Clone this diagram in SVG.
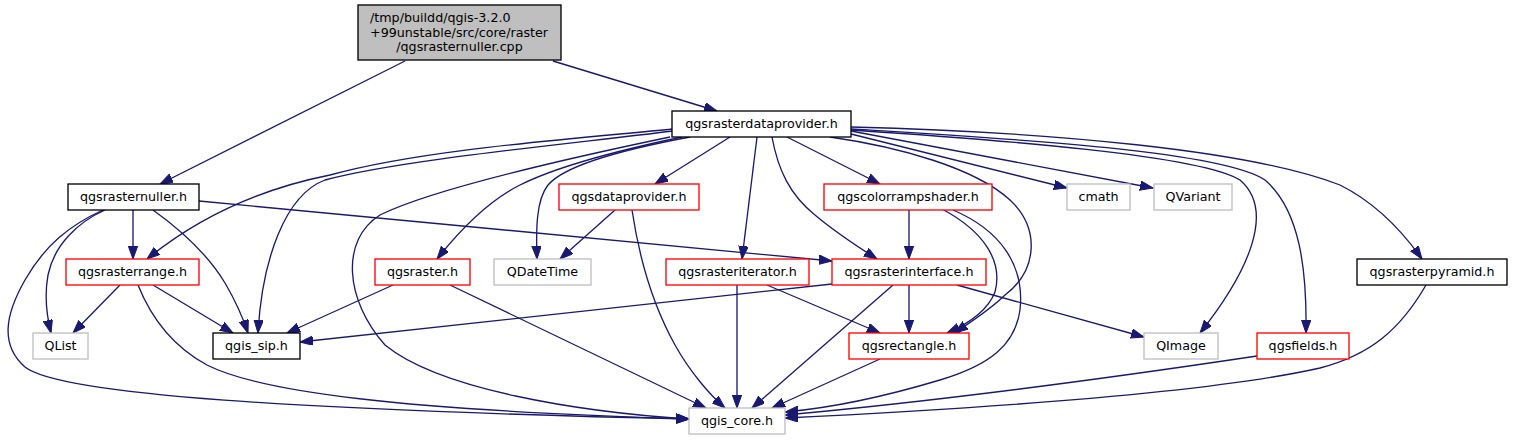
<svg xmlns="http://www.w3.org/2000/svg" width="1514" height="440" viewBox="0 0 1514 440">
<style>
.n rect{fill:#fff;stroke-width:1.33}
.blk rect{stroke:#000}
.red rect{stroke:#ff0000}
.gry rect{stroke:#bfbfbf}
.root rect{fill:#bfbfbf;stroke:#000}
text{font-family:"DejaVu Sans","Liberation Sans",sans-serif;font-size:12.7px;fill:#000;text-anchor:middle}
text.l{text-anchor:start}
#edges path{fill:none;stroke:#191970;stroke-width:1.33;marker-end:url(#ah)}
</style>
<defs>
<marker id="ah" markerUnits="userSpaceOnUse" viewBox="0 0 14 10" markerWidth="14" markerHeight="10" refX="13" refY="4.7" orient="auto">
<path d="M0,0 L13,4.7 L0,9.4 z" fill="#191970" stroke="#191970" stroke-width="1"/>
</marker>
</defs>
<rect width="1514" height="440" fill="#fff"/>
<g id="edges">
<path d="M405,61 L160,184"/>
<path d="M553,61 L717,111"/>
<path d="M133,210 L133,259"/>
<path d="M105,210 C78,222 54,245 48,275 C44,297 47,317 51,333"/>
<path d="M153,210 C185,233 210,258 225,283 C235,300 243,318 248,333"/>
<path d="M103,210 C70,225 45,245 25,280 C5,315 0,345 25,367 C60,395 300,410 689,419"/>
<path d="M199,201 L832,261"/>
<path d="M120,285 L73,333"/>
<path d="M153,285 L233,333"/>
<path d="M138,285 C150,315 170,345 207,365 C260,392 400,410 689,419"/>
<path d="M393,285 L287,333"/>
<path d="M450,285 L706,408"/>
<path d="M832,284 L300,342"/>
<path d="M909,285 L909,333"/>
<path d="M893,285 L752,408"/>
<path d="M957,285 L1144,337"/>
<path d="M737,285 L737,408"/>
<path d="M767,285 L880,333"/>
<path d="M880,359 L772,408"/>
<path d="M615,210 L560,259"/>
<path d="M632,210 C638,250 650,300 675,345 C690,372 710,395 725,408"/>
<path d="M909,210 L909,259"/>
<path d="M942,209 C985,232 1003,262 995,292 C988,310 970,323 947,333"/>
<path d="M953,210 C1000,230 1025,265 1020,310 C1015,345 990,365 940,380 C880,398 830,408 785,412"/>
<path d="M673,129 C560,140 420,150 330,175 C255,190 195,220 147,259"/>
<path d="M673,131 C560,145 400,160 325,180 C285,195 262,260 258,333"/>
<path d="M670,137 C560,160 430,190 380,215 C340,240 345,300 385,345 C440,390 580,412 689,419"/>
<path d="M682,137 C620,150 560,165 520,185 C490,200 460,230 437,259"/>
<path d="M690,137 C620,150 565,165 548,185 C536,200 536,230 537,259"/>
<path d="M730,137 L655,184"/>
<path d="M757,137 L742,259"/>
<path d="M772,137 C778,170 790,195 815,215 C835,232 855,245 877,259"/>
<path d="M787,137 L880,184"/>
<path d="M830,137 C900,147 975,168 1010,200 C1040,228 1038,270 1005,295 C990,310 970,322 955,333"/>
<path d="M851,134 L1067,188"/>
<path d="M851,131 L1153,188"/>
<path d="M851,130 C1000,140 1200,155 1240,180 C1275,210 1250,270 1200,333"/>
<path d="M851,129 C1000,138 1220,150 1265,180 C1300,210 1307,270 1306,333"/>
<path d="M851,127 C1050,132 1250,150 1340,185 C1380,205 1405,235 1422,259"/>
<path d="M1426,285 C1400,330 1370,355 1320,368 C1200,395 950,410 785,418"/>
<path d="M1257,356 C1150,372 950,400 785,415"/>
</g>
<g id="root" class="n root"><rect x="358" y="5" width="203" height="55"/>
<text class="l" x="370" y="22">/tmp/buildd/qgis-3.2.0</text>
<text class="l" x="370" y="36.7">+99unstable/src/core/raster</text>
<text x="459.5" y="51.4">/qgsrasternuller.cpp</text></g>
<g id="n_provider" class="n blk"><rect x="672" y="111" width="179" height="26"/><text x="761.5" y="128">qgsrasterdataprovider.h</text></g>
<g id="n_nuller" class="n blk"><rect x="68" y="184" width="131" height="26"/><text x="133.5" y="201">qgsrasternuller.h</text></g>
<g id="n_range" class="n red"><rect x="66" y="259" width="133" height="26"/><text x="132.5" y="276">qgsrasterrange.h</text></g>
<g id="n_qlist" class="n gry"><rect x="33" y="333" width="55" height="26"/><text x="60.5" y="350">QList</text></g>
<g id="n_sip" class="n blk"><rect x="213" y="333" width="87" height="26"/><text x="256.5" y="350">qgis_sip.h</text></g>
<g id="n_raster" class="n red"><rect x="375" y="259" width="95" height="26"/><text x="422.5" y="276">qgsraster.h</text></g>
<g id="n_qdatetime" class="n gry"><rect x="494" y="259" width="97" height="26"/><text x="542.5" y="276">QDateTime</text></g>
<g id="n_dataprovider" class="n red"><rect x="559" y="184" width="140" height="26"/><text x="629" y="201">qgsdataprovider.h</text></g>
<g id="n_iterator" class="n red"><rect x="666" y="259" width="143" height="26"/><text x="737.5" y="276">qgsrasteriterator.h</text></g>
<g id="n_interface" class="n red"><rect x="832" y="259" width="154" height="26"/><text x="909" y="276">qgsrasterinterface.h</text></g>
<g id="n_colorramp" class="n red"><rect x="824" y="184" width="168" height="26"/><text x="908" y="201">qgscolorrampshader.h</text></g>
<g id="n_rectangle" class="n red"><rect x="849" y="333" width="120" height="26"/><text x="909" y="350">qgsrectangle.h</text></g>
<g id="n_core" class="n gry"><rect x="689" y="408" width="96" height="26"/><text x="737" y="425">qgis_core.h</text></g>
<g id="n_cmath" class="n gry"><rect x="1067" y="184" width="63" height="26"/><text x="1098.5" y="201">cmath</text></g>
<g id="n_qvariant" class="n gry"><rect x="1154" y="184" width="78" height="26"/><text x="1193" y="201">QVariant</text></g>
<g id="n_pyramid" class="n blk"><rect x="1357" y="259" width="150" height="26"/><text x="1432" y="276">qgsrasterpyramid.h</text></g>
<g id="n_qimage" class="n gry"><rect x="1144" y="333" width="74" height="26"/><text x="1181" y="350">QImage</text></g>
<g id="n_fields" class="n red"><rect x="1257" y="333" width="92" height="26"/><text x="1303" y="350">qgsfields.h</text></g>
</svg>
